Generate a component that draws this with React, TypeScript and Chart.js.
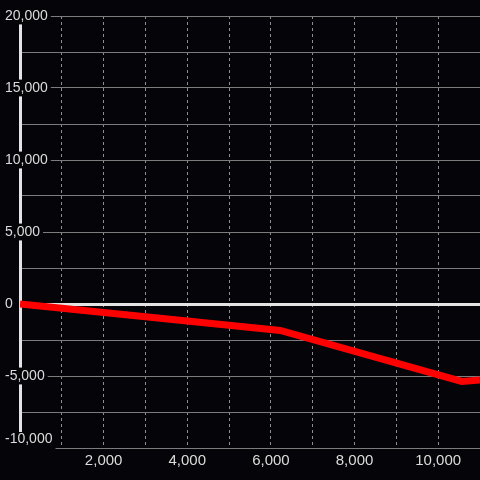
import { useEffect, useRef } from 'react';
import { Chart, registerables } from 'chart.js';

Chart.register(...registerables);

// Series (x, y)
const xValues = [0, 6220, 10560, 11000];
const yValues = [0, -1840, -5380, -5280];

// Tick labels shown
const xTickLabels = [2000, 4000, 6000, 8000, 10000];
const yTickLabels = [-10000, -5000, 0, 5000, 10000, 15000, 20000];

const BG = '#050408';
const TEXT = '#dcdcdc';
const FAMILY = "'Liberation Sans', Arial, sans-serif";
const Y_FONT_SIZE = 14;

const fmt = (v: number) => v.toLocaleString('en-US');

export default function App() {
  const ref = useRef<HTMLCanvasElement>(null);

  useEffect(() => {
    const yMin = yTickLabels[0];

    const bgPlugin = {
      id: 'bg',
      beforeDraw(c: any) {
        const ctx = c.ctx;
        ctx.save();
        ctx.fillStyle = BG;
        ctx.fillRect(0, 0, c.width, c.height);
        ctx.restore();
      },
    };

    // backdrop for the lowest y label, which sits half a line above its tick
    const lowLabelBackdrop = {
      id: 'lowLabelBackdrop',
      afterDatasetsDraw(c: any) {
        const s = c.scales.y;
        const ctx = c.ctx;
        const y = s.getPixelForValue(yMin);
        ctx.save();
        ctx.font = `${Y_FONT_SIZE}px ${FAMILY}`;
        const w = ctx.measureText(fmt(yMin)).width;
        ctx.fillStyle = BG;
        ctx.fillRect(s.left - 1, y - 16, w + 4, 17.5);
        ctx.restore();
      },
    };

    const chart = new Chart(ref.current as HTMLCanvasElement, {
      type: 'line',
      data: {
        datasets: [
          {
            data: xValues.map((x, i) => ({ x, y: yValues[i] })),
            borderColor: '#ff0000',
            borderWidth: 7,
            pointRadius: 0,
            tension: 0,
            fill: false,
            clip: 0,
          } as any,
        ],
      },
      options: {
        animation: false,
        responsive: false,
        devicePixelRatio: 1,
        layout: { padding: { left: 5, top: 16, right: 0, bottom: 10 } },
        plugins: { legend: { display: false }, tooltip: { enabled: false } },
        scales: {
          x: {
            type: 'linear',
            min: 0,
            max: 11000,
            ticks: {
              stepSize: 1000,
              autoSkip: false,
              maxRotation: 0,
              padding: 0,
              color: TEXT,
              font: { size: 15, family: FAMILY },
              callback: (v: any) => (xTickLabels.includes(Number(v)) ? fmt(Number(v)) : ''),
            },
            grid: {
              color: (ctx: any) => (ctx.tick && ctx.tick.value === 0 ? 'rgba(0,0,0,0)' : '#8e8e8e'),
              drawTicks: true,
              tickLength: 4,
              tickColor: 'rgba(0,0,0,0)',
              lineWidth: 1,
            },
            border: { display: false, dash: [3, 3] },
          },
          y: {
            type: 'linear',
            min: -10000,
            max: 20000,
            afterFit: (s: any) => {
              s.width = 15;
            },
            ticks: {
              z: 1,
              stepSize: 2500,
              autoSkip: false,
              mirror: true,
              crossAlign: 'near',
              padding: -15,
              color: TEXT,
              font: { size: Y_FONT_SIZE, family: FAMILY },
              callback: (v: any) => {
                const n = Number(v);
                if (!yTickLabels.includes(n)) return '';
                return n === yMin ? [fmt(n), ''] : fmt(n);
              },
              showLabelBackdrop: true,
              backdropColor: (ctx: any) =>
                ctx.tick && yTickLabels.includes(ctx.tick.value) && ctx.tick.value !== yMin
                  ? BG
                  : 'rgba(0,0,0,0)',
              backdropPadding: { left: 1, right: 3, top: 0, bottom: 0 },
            },
            grid: {
              color: (ctx: any) => (ctx.tick && ctx.tick.value === 0 ? '#e4e4e4' : '#7c7c7c'),
              lineWidth: (ctx: any) => (ctx.tick && ctx.tick.value === 0 ? 3 : 1),
              drawTicks: false,
            },
            border: { display: true, color: '#e4e4e4', width: 3 },
          },
        },
      } as any,
      plugins: [bgPlugin, lowLabelBackdrop],
    });

    return () => chart.destroy();
  }, []);

  return (
    <div style={{ position: 'fixed', left: 0, top: 0, width: 480, height: 480 }}>
      <canvas ref={ref} width={480} height={480} style={{ display: 'block' }} />
    </div>
  );
}
